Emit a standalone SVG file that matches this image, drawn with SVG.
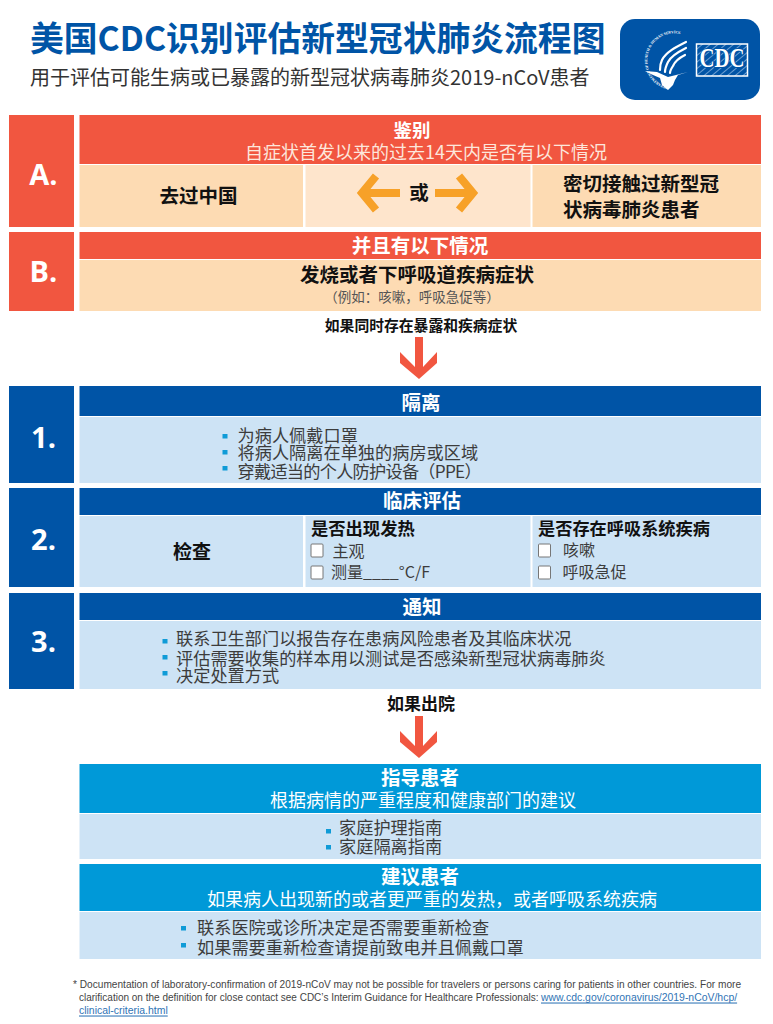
<svg xmlns="http://www.w3.org/2000/svg" width="773" height="1024" viewBox="0 0 773 1024">
<style>
text{font-family:"Noto Sans CJK SC","Noto Sans",sans-serif;dominant-baseline:central}
.m{text-anchor:middle}
.hd{fill:#fff;font-weight:700;font-size:19.5px}
.sub{fill:#fff;font-size:18px}
.bk{fill:#111;font-weight:700;font-size:19.5px}
.bd{fill:#3c3c3c;font-size:17.2px}
.lab{font-family:"Open Sans",sans-serif;font-weight:700;font-size:29px;fill:#fff;text-anchor:middle;dominant-baseline:auto}
.fn{font-family:"Liberation Sans",sans-serif;font-size:10.15px;fill:#444}
.fn2{font-size:10px}
.lnk{fill:#2f74b5;text-decoration:underline;font-size:10.45px}
.red{fill:#f15640}.peach{fill:#fddbb3}.pale{fill:#fee5cc}.navy{fill:#0054a6}.ice{fill:#cde3f5}.sky{fill:#0099d8}
.dot{fill:#0f9bd7}
.chk{fill:#fff;stroke:#777;stroke-width:1}
.oa{fill:none;stroke:#f7a128;stroke-width:8}
.wing{fill:none;stroke:#fff;stroke-width:2.2;stroke-linecap:round;stroke-linejoin:round}
</style>
<defs>
<path id="ar" d="M415 337H423V367L437 352V363L419 379L400 363V352L415 367Z" fill="#f15640"/>
<path id="seal" d="M668 87A27 27 0 1 1 681 34"/>
<pattern id="hatch" width="5" height="5" patternUnits="userSpaceOnUse" patternTransform="rotate(-40)"><rect width="5" height="5" fill="#0054a6"/><rect width="5" height="1" fill="#6c9fd2"/></pattern>
</defs>

<g id="title">
<text x="30" y="36.500" font-size="33.800" font-weight="700" fill="#0054a6">美国CDC识别评估新型冠状肺炎流程图</text>
<text x="30" y="76.500" font-size="20" fill="#333">用于评估可能生病或已暴露的新型冠状病毒肺炎2019-nCoV患者</text>
</g>

<g id="logo">
<rect x="620" y="19" width="140" height="81" rx="15" fill="#0054a6"/>
<text font-size="3.7" font-weight="700" fill="#fff" style="font-family:'Liberation Serif',serif;dominant-baseline:auto"><textPath href="#seal">DEPARTMENT OF HEALTH &amp; HUMAN SERVICES·USA</textPath></text>
<path class="wing" d="M686 42C676 47 666 52 662 60C660 64 660 67 660 70"/>
<path class="wing" d="M686 48C678 52 671 56 668 62C666 66 665 69 665 72"/>
<path class="wing" d="M685 55C679 58 675 61 673 66C671 69 670 71 670 73"/>
<path d="M645 71L657 72L668 77L688 72L678 75L675 80L673 85L668 90L662 85L660 78L653 75Z" fill="#fff"/>
<rect x="696.500" y="44" width="51" height="32" fill="url(#hatch)" stroke="#fff" stroke-width="1.500"/>
<text x="699.500" y="57.500" font-size="28" font-weight="700" fill="#fff" textLength="45" lengthAdjust="spacingAndGlyphs" style="font-family:'Liberation Serif',serif;paint-order:stroke;stroke:#0054a6;stroke-width:2px">CDC</text>
</g>

<g id="node-a">
<rect class="red" x="9" y="115" width="65" height="112"/>
<text class="lab" x="43.500" y="185">A.</text>
<rect class="red" x="79.500" y="115" width="681.500" height="49"/>
<text class="hd m" x="412" y="128.500" style="font-size:18.500px">鉴别</text>
<text class="m" x="426" y="150.500" font-size="18" fill="#fde6dc">自症状首发以来的过去14天内是否有以下情况</text>
</g>
<g id="node-a-china">
<rect class="peach" x="79.500" y="165" width="223.500" height="62"/>
<text class="bk m" x="198.500" y="194.500">去过中国</text>
</g>
<g id="node-a-or">
<rect class="pale" x="305.500" y="165" width="225" height="62"/>
<text class="bk m" x="419" y="191">或</text>
<path class="oa" d="M400 193H365M376 176L362 193L376 210"/>
<path class="oa" d="M435 193H470M459 176L473 193L459 210"/>
</g>
<g id="node-a-contact">
<rect class="peach" x="532.500" y="165" width="228.500" height="62"/>
<text class="bk" x="563" y="182">密切接触过新型冠</text>
<text class="bk" x="563" y="208">状病毒肺炎患者</text>
</g>

<g id="node-b">
<rect class="red" x="9" y="232" width="65" height="79"/>
<text class="lab" x="43.500" y="282">B.</text>
<rect class="red" x="79.500" y="232" width="681.500" height="27"/>
<text class="hd m" x="420" y="244">并且有以下情况</text>
<rect class="peach" x="79.500" y="260" width="681.500" height="51"/>
<text class="bk m" x="417" y="273">发烧或者下呼吸道疾病症状</text>
<text class="m" x="412" y="295.500" font-size="13.500" fill="#555">（例如：咳嗽，呼吸急促等）</text>
</g>

<g id="label-exposure">
<text class="m" x="421" y="324" font-size="14.800" font-weight="700" fill="#111">如果同时存在暴露和疾病症状</text>
</g>

<g id="connectors">
<use href="#ar"/>
<use href="#ar" y="379"/>
</g>

<g id="node-1">
<rect class="navy" x="9" y="386" width="65" height="97"/>
<text class="lab" x="43.500" y="448">1.</text>
<rect class="navy" x="79.500" y="386" width="681.500" height="30"/>
<text class="hd m" x="421" y="401">隔离</text>
<rect class="ice" x="79.500" y="417" width="681.500" height="66"/>
<rect class="dot" x="222.500" y="434" width="5" height="4.500"/>
<rect class="dot" x="222.500" y="450" width="5" height="4.500"/>
<rect class="dot" x="222.500" y="466" width="5" height="4.500"/>
<text class="bd" x="237.500" y="434">为病人佩戴口罩</text>
<text class="bd" x="237.500" y="451">将病人隔离在单独的病房或区域</text>
<text class="bd" x="237.500" y="470.500" style="letter-spacing:-.75px">穿戴适当的个人防护设备（PPE）</text>
</g>

<g id="node-2">
<rect class="navy" x="9" y="488" width="65" height="99"/>
<text class="lab" x="43.500" y="550">2.</text>
<rect class="navy" x="79.500" y="488" width="681.500" height="27"/>
<text class="hd m" x="422" y="499">临床评估</text>
</g>
<g id="node-2-check">
<rect class="ice" x="79.500" y="516" width="223.500" height="71"/>
<text class="bk m" x="192" y="550" style="font-size:19px">检查</text>
</g>
<g id="node-2-fever">
<rect class="ice" x="305.500" y="516" width="225" height="71"/>
<text class="bk" x="311" y="527" style="font-size:17.300px">是否出现发热</text>
<rect class="chk" x="311" y="544" width="12" height="13" rx="1"/>
<rect class="chk" x="311" y="566" width="12" height="13" rx="1"/>
<text class="bd" x="332.500" y="550" style="font-size:16px">主观</text>
<text class="bd" x="331" y="571" style="font-size:16px">测量____°C/F</text>
</g>
<g id="node-2-resp">
<rect class="ice" x="532.500" y="516" width="228.500" height="71"/>
<text class="bk" x="538" y="527" style="font-size:17.200px">是否存在呼吸系统疾病</text>
<rect class="chk" x="538.500" y="544" width="12" height="13" rx="1"/>
<rect class="chk" x="538.500" y="566" width="12" height="13" rx="1"/>
<text class="bd" x="563" y="549" style="font-size:16px">咳嗽</text>
<text class="bd" x="562.500" y="571" style="font-size:16px">呼吸急促</text>
</g>

<g id="node-3">
<rect class="navy" x="9" y="593" width="65" height="96"/>
<text class="lab" x="43.500" y="652">3.</text>
<rect class="navy" x="79.500" y="593" width="681.500" height="27"/>
<text class="hd m" x="422" y="605">通知</text>
<rect class="ice" x="79.500" y="621" width="681.500" height="68"/>
<rect class="dot" x="162.500" y="639" width="5" height="4.500"/>
<rect class="dot" x="162.500" y="655" width="5" height="4.500"/>
<rect class="dot" x="162.500" y="671" width="5" height="4.500"/>
<text class="bd" x="176" y="637">联系卫生部门以报告存在患病风险患者及其临床状况</text>
<text class="bd" x="176" y="657">评估需要收集的样本用以测试是否感染新型冠状病毒肺炎</text>
<text class="bd" x="176" y="674">决定处置方式</text>
</g>

<g id="label-discharge">
<text class="m" x="421" y="702" font-size="17" font-weight="700" fill="#111">如果出院</text>
</g>

<g id="node-guide">
<rect class="sky" x="79.500" y="764" width="681.500" height="49"/>
<text class="hd m" x="420" y="776">指导患者</text>
<text class="sub m" x="423" y="799">根据病情的严重程度和健康部门的建议</text>
<rect class="ice" x="79.500" y="814" width="681.500" height="45"/>
<rect class="dot" x="326" y="829" width="5" height="4.500"/>
<rect class="dot" x="326" y="845" width="5" height="4.500"/>
<text class="bd" x="339" y="826">家庭护理指南</text>
<text class="bd" x="339" y="845">家庭隔离指南</text>
</g>

<g id="node-advise">
<rect class="sky" x="79.500" y="864" width="681.500" height="47"/>
<text class="hd m" x="420" y="875">建议患者</text>
<text class="sub m" x="432" y="898">如果病人出现新的或者更严重的发热，或者呼吸系统疾病</text>
<rect class="ice" x="79.500" y="912" width="681.500" height="47"/>
<rect class="dot" x="181" y="926" width="5" height="4.500"/>
<rect class="dot" x="181" y="943" width="5" height="4.500"/>
<text class="bd" x="197" y="926">联系医院或诊所决定是否需要重新检查</text>
<text class="bd" x="197" y="946">如果需要重新检查请提前致电并且佩戴口罩</text>
</g>

<g id="footnote">
<text class="fn" x="73" y="984">* Documentation of laboratory-confirmation of 2019-nCoV may not be possible for travelers or persons caring for patients in other countries. For more</text>
<text class="fn fn2" x="79" y="997">clarification on the definition for close contact see CDC’s Interim Guidance for Healthcare Professionals:</text>
<text class="fn lnk" x="541" y="997">www.cdc.gov/coronavirus/2019-nCoV/hcp/</text>
<text class="fn lnk" x="79" y="1010">clinical-criteria.html</text>
</g>
</svg>
